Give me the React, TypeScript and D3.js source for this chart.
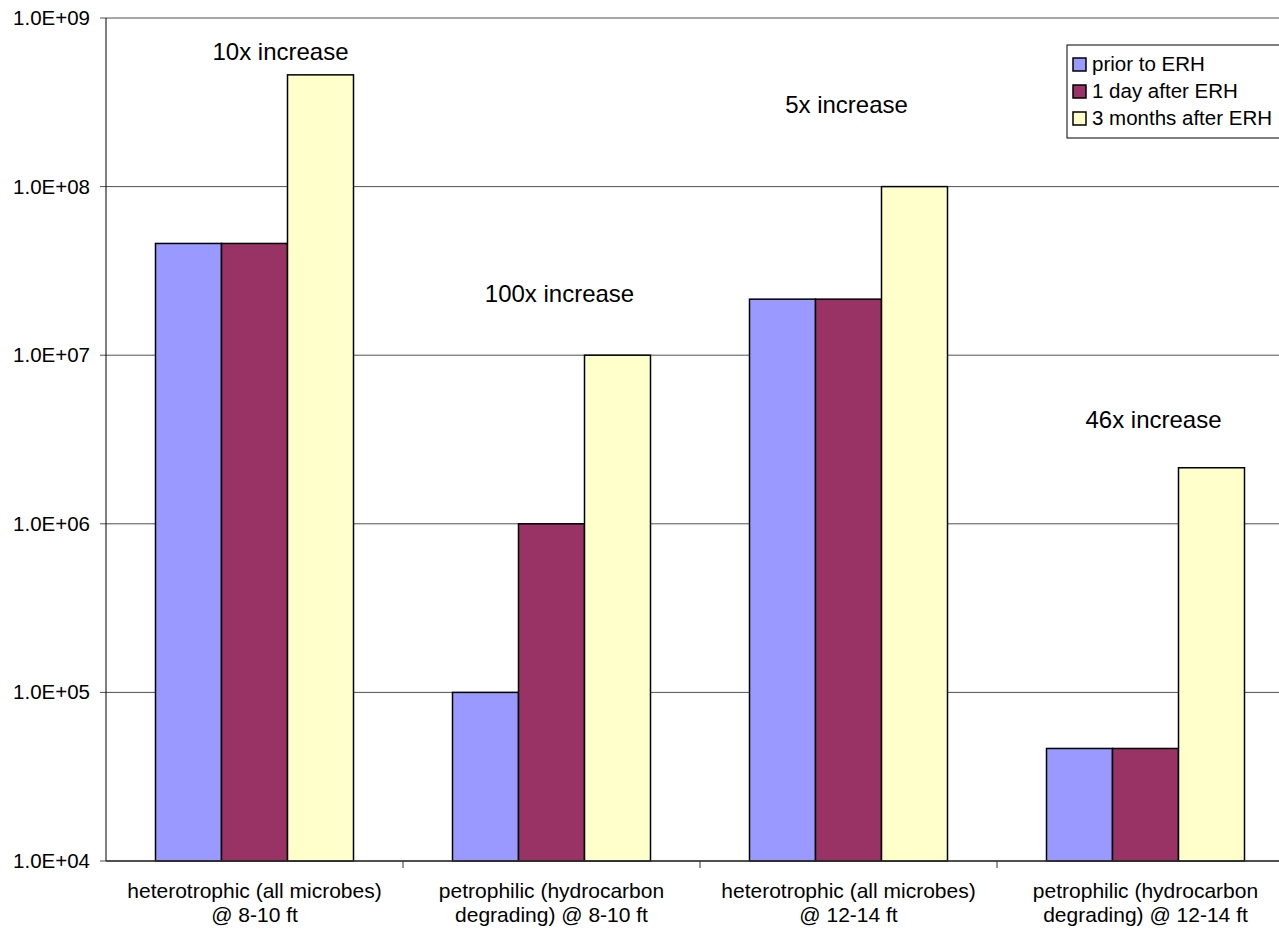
import React from "react";
import * as d3 from "d3";

const categories = [
  ["heterotrophic (all microbes)", "@ 8-10 ft"],
  ["petrophilic (hydrocarbon", "degrading) @ 8-10 ft"],
  ["heterotrophic (all microbes)", "@ 12-14 ft"],
  ["petrophilic (hydrocarbon", "degrading) @ 12-14 ft"],
];
const seriesNames = ["prior to ERH", "1 day after ERH", "3 months after ERH"];
const seriesColors = ["#9999FF", "#993366", "#FFFFCC"];

const priorValues = [4.6e7, 1e5, 2.15e7, 4.65e4];
const dayAfterValues = [4.6e7, 1e6, 2.15e7, 4.65e4];
const monthsAfterValues = [4.6e8, 1e7, 1e8, 2.15e6];

const yTicks = [1e4, 1e5, 1e6, 1e7, 1e8, 1e9];

// annotation text, anchored to a category and a value on the log axis
const annotations = [
  { cat: 0, text: "10x increase", value: 5.6e8, dx: 26 },
  { cat: 1, text: "100x increase", value: 2.07e7, dx: 8 },
  { cat: 2, text: "5x increase", value: 2.74e8, dx: -2 },
  { cat: 3, text: "46x increase", value: 3.7e6, dx: 8 },
];

const W = 1279;
const H = 930;
const margin = { left: 106, top: 18, bottom: 861, right: 1294 };
const font = "'Liberation Sans', Arial, sans-serif";
const gridColor = "#505050";

const App = () => {
  const series = [priorValues, dayAfterValues, monthsAfterValues];
  const catIdx = categories.map((_, i) => String(i));

  const xScale = d3.scaleBand<string>()
    .domain(catIdx)
    .range([margin.left, margin.right])
    .paddingInner(0)
    .paddingOuter(0);

  const xSub = d3.scaleBand<string>()
    .domain(seriesNames)
    .range([0, xScale.bandwidth()])
    .paddingInner(0)
    .paddingOuter(0.75);

  const yScale = d3.scaleLog()
    .domain([1e4, 1e9])
    .range([margin.bottom, margin.top]);

  const fmt = (v: number) => {
    const e = Math.round(Math.log10(v));
    return `1.0E+${String(e).padStart(2, "0")}`;
  };

  return (
    <svg
      width={W}
      height={H}
      style={{ position: "absolute", left: 0, top: 0, background: "#fff" }}
      fontFamily={font}
    >
      {/* gridlines + y ticks */}
      {yTicks.map((t) => (
        <g key={t}>
          <line
            x1={margin.left}
            x2={margin.right}
            y1={yScale(t)}
            y2={yScale(t)}
            stroke={gridColor}
            strokeWidth={1}
          />
          <line
            x1={margin.left - 6}
            x2={margin.left}
            y1={yScale(t)}
            y2={yScale(t)}
            stroke={gridColor}
          />
          <text
            x={margin.left - 16}
            y={yScale(t) + 7}
            textAnchor="end"
            fontSize={20.5}
            fill="#000"
          >
            {fmt(t)}
          </text>
        </g>
      ))}

      {/* bars */}
      {categories.map((_, ci) => (
        <g key={ci} transform={`translate(${xScale(String(ci))},0)`}>
          {series.map((vals, si) => {
            const y = yScale(vals[ci]);
            return (
              <rect
                key={si}
                x={xSub(seriesNames[si])}
                y={y}
                width={xSub.bandwidth()}
                height={margin.bottom - y}
                fill={seriesColors[si]}
                stroke="#000"
                strokeWidth={1.5}
              />
            );
          })}
        </g>
      ))}

      {/* axes */}
      <line
        x1={margin.left}
        x2={margin.left}
        y1={margin.top}
        y2={margin.bottom}
        stroke="#000"
        strokeWidth={1}
      />
      <line
        x1={margin.left}
        x2={margin.right}
        y1={margin.bottom}
        y2={margin.bottom}
        stroke="#333"
        strokeWidth={1.5}
      />
      {catIdx.map((c) => (
        <line
          key={c}
          x1={(xScale(c) || 0) + xScale.bandwidth()}
          x2={(xScale(c) || 0) + xScale.bandwidth()}
          y1={margin.bottom}
          y2={margin.bottom + 7}
          stroke="#333"
        />
      ))}

      {/* category labels */}
      {categories.map((lines, ci) => {
        const cx = (xScale(String(ci)) || 0) + xScale.bandwidth() / 2;
        return (
          <text key={ci} textAnchor="middle" fontSize={21} fill="#000">
            {lines.map((l, li) => (
              <tspan key={li} x={cx} y={898 + li * 24}>
                {l}
              </tspan>
            ))}
          </text>
        );
      })}

      {/* annotations */}
      {annotations.map((a) => (
        <text
          key={a.text}
          x={(xScale(String(a.cat)) || 0) + xScale.bandwidth() / 2 + a.dx}
          y={yScale(a.value)}
          textAnchor="middle"
          fontSize={24}
          fill="#000"
        >
          {a.text}
        </text>
      ))}

      {/* legend */}
      <g transform="translate(1067,45)">
        <rect x={0} y={0} width={230} height={93} fill="#fff" stroke="#000" strokeWidth={1} />
        {seriesNames.map((name, i) => (
          <g key={name} transform={`translate(0,${23 + i * 27})`}>
            <rect
              x={6}
              y={-10}
              width={13}
              height={13}
              fill={seriesColors[i]}
              stroke="#000"
              strokeWidth={1.5}
            />
            <text x={25} y={0} dy={3} fontSize={20.5} fill="#000">
              {name}
            </text>
          </g>
        ))}
      </g>
    </svg>
  );
};

export default App;
